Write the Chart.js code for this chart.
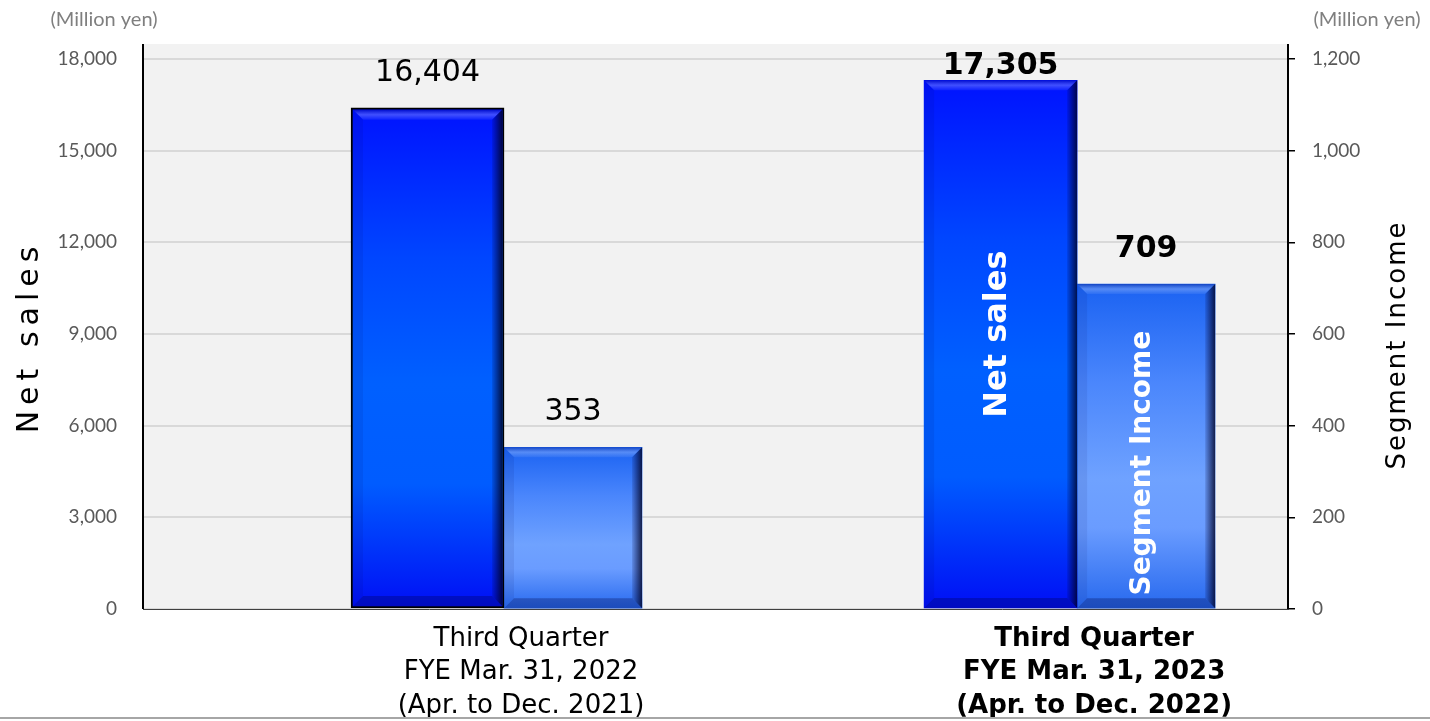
<!DOCTYPE html>
<html lang="en">
<head>
  <meta charset="UTF-8">
  <title>Net sales and Segment Income</title>
  <style>
    body { margin: 0; background: #fff; }
    #wrap { width: 1430px; height: 721px; }
  </style>
</head>
<body>
  <div id="wrap"><canvas id="salesChart"></canvas></div>

  <script src="https://cdn.jsdelivr.net/npm/chart.js@4/dist/chart.umd.min.js"></script>
  <script>
    // data
    const categories = [
      ['Third Quarter', 'FYE Mar. 31, 2022', '(Apr. to Dec. 2021)'],
      ['Third Quarter', 'FYE Mar. 31, 2023', '(Apr. to Dec. 2022)']
    ];
    const seriesNames = ['Net sales', 'Segment Income'];
    const netSales = [16404, 17305];
    const segmentIncome = [353, 709];
    const leftTicks = [0, 3000, 6000, 9000, 12000, 15000, 18000];
    const rightTicks = [0, 200, 400, 600, 800, 1000, 1200];
    const unitLabel = '(Million yen)';

    const last = categories.length - 1;

    function barFill(stops) {
      return (c) => {
        const chart = c.chart;
        if (c.type !== 'data' || !chart.chartArea) return stops[1][1];
        const scale = chart.scales[c.datasetIndex === 0 ? 'y' : 'y1'];
        const top = scale.getPixelForValue(c.parsed.y);
        const bottom = scale.getPixelForValue(0);
        const g = chart.ctx.createLinearGradient(0, top, 0, bottom);
        stops.forEach(s => g.addColorStop(s[0], s[1]));
        return g;
      };
    }

    function bevel(ctx, el, inset) {
      const p = el.getProps(['x', 'y', 'base', 'width'], true);
      const l = p.x - p.width / 2 + inset, r = p.x + p.width / 2 - inset;
      const t = p.y + inset, b = p.base - inset;
      const d = 10;
      const poly = (pts, fill) => {
        ctx.beginPath();
        ctx.moveTo(pts[0][0], pts[0][1]);
        pts.slice(1).forEach(q => ctx.lineTo(q[0], q[1]));
        ctx.closePath();
        ctx.fillStyle = fill;
        ctx.fill();
      };
      const tg = ctx.createLinearGradient(0, t, 0, t + d);
      tg.addColorStop(0, 'rgba(0,0,90,0.3)');
      tg.addColorStop(0.5, 'rgba(255,255,255,0.25)');
      tg.addColorStop(1, 'rgba(255,255,255,0.06)');
      poly([[l, t], [r, t], [r - d, t + d], [l + d, t + d]], tg);
      poly([[l, t], [l + d, t + d], [l + d, b - d], [l, b]], 'rgba(0,0,80,0.08)');
      const rg = ctx.createLinearGradient(r - d, 0, r, 0);
      rg.addColorStop(0, 'rgba(0,0,50,0.12)');
      rg.addColorStop(1, 'rgba(0,0,30,0.8)');
      poly([[r, t], [r, b], [r - d, b - d], [r - d, t + d]], rg);
      poly([[l, b], [l + d, b - d], [r - d, b - d], [r, b]], 'rgba(0,0,60,0.28)');
    }

    const decor = {
      id: 'decor',
      beforeDraw(chart) {
        const { ctx, chartArea: a } = chart;
        ctx.save();
        ctx.fillStyle = '#fff';
        ctx.fillRect(0, 0, chart.width, chart.height);
        ctx.fillStyle = '#f2f2f2';
        ctx.fillRect(a.left, a.top - 15, a.right - a.left, a.bottom - a.top + 15);
        ctx.restore();
      },
      afterDatasetsDraw(chart) {
        const { ctx, chartArea: a } = chart;
        ctx.save();
        chart.data.datasets.forEach((ds, di) => {
          chart.getDatasetMeta(di).data.forEach((el, i) => {
            bevel(ctx, el, (di === 0 && i === 0) ? 2 : 0);
          });
        });
        // value labels
        ctx.textAlign = 'center';
        ctx.textBaseline = 'middle';
        ctx.fillStyle = '#000';
        chart.data.datasets.forEach((ds, di) => {
          chart.getDatasetMeta(di).data.forEach((el, i) => {
            ctx.font = (i === last ? 'bold ' : '') + '30px "DejaVu Sans"';
            const y = Math.max(el.y - 35, a.top + 7);
            ctx.fillText(ds.data[i].y.toLocaleString('en-US'), el.x, y);
          });
        });
        // series names inside the latest bars
        ctx.fillStyle = '#fff';
        chart.data.datasets.forEach((ds, di) => {
          const el = chart.getDatasetMeta(di).data[last];
          ctx.save();
          ctx.font = 'bold ' + (di === 0 ? 32 : 28) + 'px "DejaVu Sans"';
          ctx.translate(el.x - 3, (el.y + el.base) / 2 + (di === 0 ? -10 : 17));
          ctx.rotate(-Math.PI / 2);
          ctx.fillText(seriesNames[di], 0, 0);
          ctx.restore();
        });
        ctx.restore();
      },
      afterDraw(chart) {
        const { ctx, chartArea: a } = chart;
        ctx.save();
        // axis lines reaching to the top of the grey panel
        ctx.strokeStyle = '#000';
        ctx.lineWidth = 2;
        ctx.beginPath();
        ctx.moveTo(a.left, a.top - 15); ctx.lineTo(a.left, a.bottom);
        ctx.moveTo(a.right, a.top - 15); ctx.lineTo(a.right, a.bottom);
        ctx.stroke();
        // axis titles
        ctx.fillStyle = '#000';
        ctx.textAlign = 'center';
        ctx.textBaseline = 'middle';
        ctx.save();
        ctx.font = '30px "DejaVu Sans"';
        ctx.letterSpacing = '6px';
        ctx.translate(30, (a.top + a.bottom) / 2 + 3);
        ctx.rotate(-Math.PI / 2);
        ctx.fillText(seriesNames[0], 0, 0);
        ctx.restore();
        ctx.save();
        ctx.font = '26px "DejaVu Sans"';
        ctx.letterSpacing = '2px';
        ctx.translate(1398, (a.top + a.bottom) / 2 + 11);
        ctx.rotate(-Math.PI / 2);
        ctx.fillText(seriesNames[1], 0, 0);
        ctx.restore();
        // unit labels
        ctx.fillStyle = '#7f7f7f';
        ctx.font = '20px Lato';
        ctx.fillText(unitLabel, 104, 20);
        ctx.fillText(unitLabel, 1367, 20);
        // bottom rule
        ctx.strokeStyle = '#a6a6a6';
        ctx.lineWidth = 2;
        ctx.beginPath();
        ctx.moveTo(0, 718); ctx.lineTo(chart.width, 718);
        ctx.stroke();
        ctx.restore();
      }
    };

    const netFill = barFill([[0, '#0012ff'], [0.3, '#0046ff'], [0.55, '#0060ff'], [0.75, '#005cff'], [1, '#000ef5']]);
    const segFill = barFill([[0, '#1a62f2'], [0.3, '#4a86fc'], [0.6, '#6fa2ff'], [0.75, '#6a9cff'], [1, '#2668ee']]);

    new Chart('salesChart', {
      type: 'bar',
      data: {
        datasets: [{
          label: seriesNames[0],
          data: netSales.map((v, i) => ({ x: i, y: v })),
          yAxisID: 'y',
          barThickness: 153,
          backgroundColor: netFill,
          borderColor: c => c.dataIndex === 0 ? '#000' : 'rgba(0,0,0,0)',
          borderWidth: c => c.dataIndex === 0 ? 2 : 0,
          borderSkipped: false
        }, {
          label: seriesNames[1],
          data: segmentIncome.map((v, i) => ({ x: i, y: v })),
          yAxisID: 'y1',
          barThickness: 138,
          backgroundColor: segFill,
          borderWidth: 0
        }]
      },
      options: {
        responsive: true,
        maintainAspectRatio: false,
        animation: false,
        events: [],
        layout: { padding: { top: 59, left: 0, right: 0, bottom: 0 } },
        plugins: { legend: { display: false }, tooltip: { enabled: false } },
        scales: {
          x: {
            type: 'linear',
            offset: false,
            min: -0.63,
            max: 1.368,
            afterBuildTicks: s => { s.ticks = categories.map((c, i) => ({ value: i })); },
            afterFit: s => { s.height = 112; },
            grid: { display: false, offset: false },
            border: { color: '#404040', width: 1 },
            ticks: {
              autoSkip: false,
              maxRotation: 0,
              padding: 5,
              labelOffset: 17,
              color: '#000',
              callback: (v, i) => categories[i],
              font: c => ({ family: '"DejaVu Sans"', size: 26, lineHeight: 1.29, weight: c.index === last ? 'bold' : 'normal' })
            }
          },
          y: {
            position: 'left',
            min: leftTicks[0],
            max: leftTicks[leftTicks.length - 1],
            afterBuildTicks: s => { s.ticks = leftTicks.map(v => ({ value: v })); },
            afterFit: s => { s.width = 143; },
            grid: { color: '#d9d9d9', lineWidth: 2, drawTicks: false },
            border: { display: false },
            ticks: { padding: 26, color: '#595959', font: { family: 'Lato', size: 19 } }
          },
          y1: {
            position: 'right',
            min: rightTicks[0],
            max: rightTicks[rightTicks.length - 1],
            afterBuildTicks: s => { s.ticks = rightTicks.map(v => ({ value: v })); },
            afterFit: s => { s.width = 142; },
            grid: { drawOnChartArea: false, drawTicks: true, tickLength: 7, tickColor: '#000', lineWidth: 1.5 },
            border: { display: false },
            ticks: { padding: 17, color: '#595959', font: { family: 'Lato', size: 19 } }
          }
        }
      },
      plugins: [decor]
    });
  </script>
</body>
</html>
